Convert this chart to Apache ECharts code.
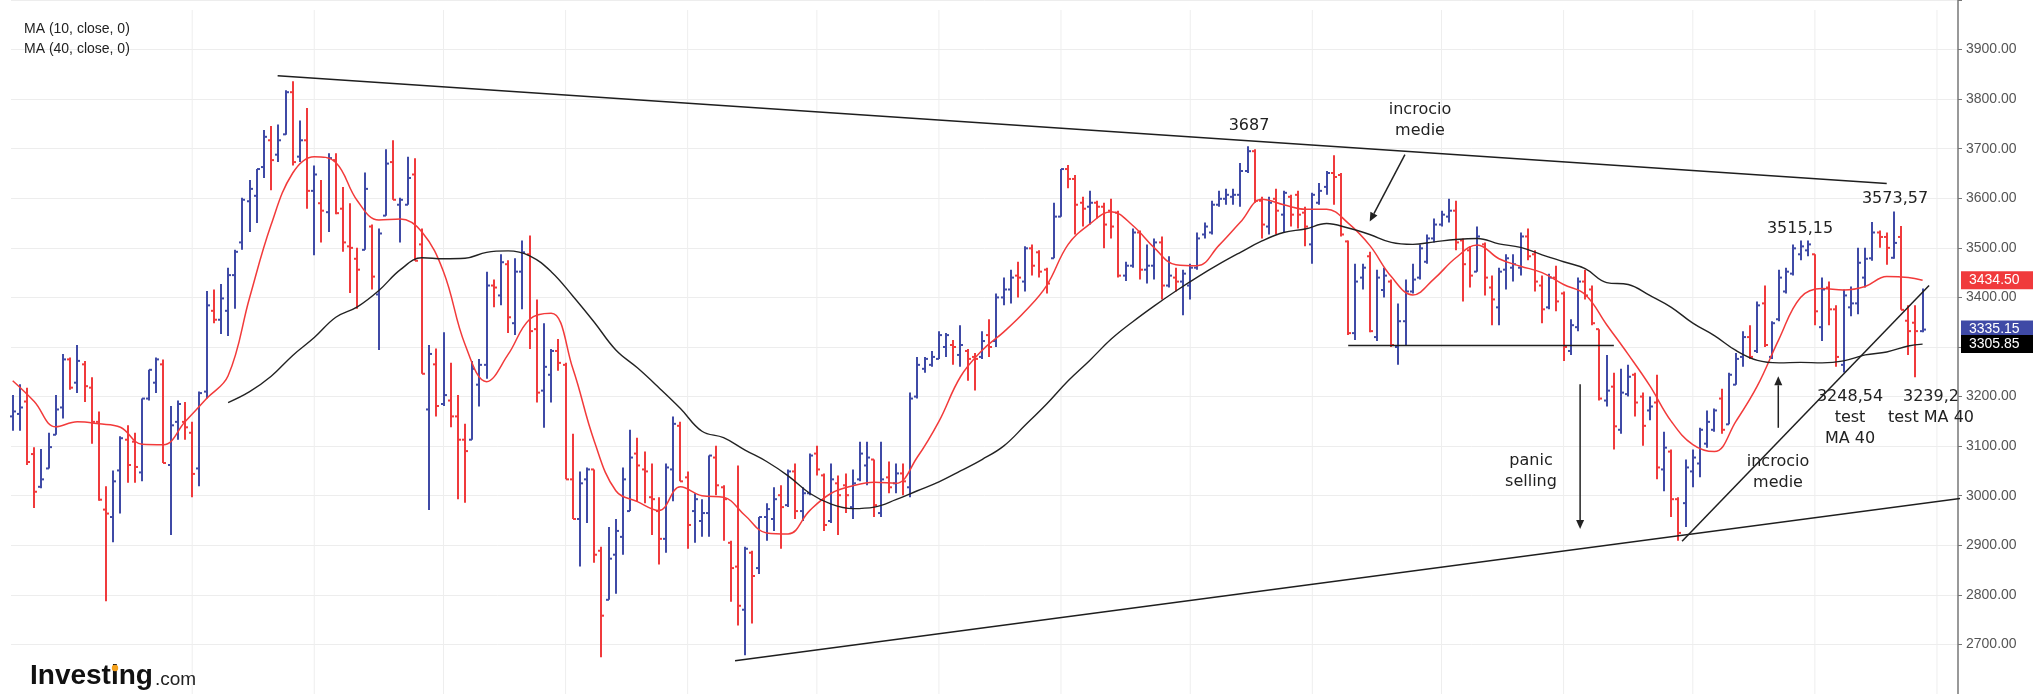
<!DOCTYPE html>
<html lang="it">
<head>
<meta charset="UTF-8">
<title>OHLC con medie mobili</title>
<script src="https://cdn.jsdelivr.net/npm/echarts@6/dist/echarts.min.js"></script>
<style>
  body { margin: 0; background: #fff; }
  #main { width: 2033px; height: 694px; }
</style>
</head>
<body>
<div id="main"></div>
<script>
// daily OHLC, bar 1 .. 267
var open = [3160,3165,3190,3084,3018,3055,3123,3178,3275,3228,
  3265,3218,3149,2972,2957,3051,3113,3109,3047,3196,
  3228,3265,3062,3149,3149,3127,3055,3210,3373,3355,
  3373,3445,3511,3594,3605,3663,3717,3688,3729,3814,
  3684,3717,3615,3590,3572,3677,3579,3503,3478,3496,
  3543,3406,3565,3673,3587,3587,3648,3507,3174,3265,
  3185,3192,3160,3113,3113,3224,3264,3424,3404,3467,
  3348,3452,3487,3336,3212,3244,3292,3264,3033,2953,
  3033,3053,2889,2790,2881,2917,2969,3085,3053,2997,
  2969,2913,3053,3141,3037,2969,2949,2965,3077,3017,
  2905,2857,2770,2885,2854,2957,2953,3001,2981,3049,
  2969,3005,3085,3041,2949,3025,3021,2977,3033,3061,
  3073,2965,3037,3025,3045,3017,3200,3256,3264,3276,
  3300,3304,3284,3292,3280,3280,3324,3312,3400,3416,
  3444,3432,3499,3491,3456,3479,3563,3659,3639,3591,
  3583,3591,3583,3575,3571,3444,3464,3531,3456,3464,
  3511,3424,3440,3432,3424,3460,3527,3531,3587,3599,
  3603,3607,3655,3695,3595,3543,3599,3567,3603,3607,
  3571,3507,3591,3623,3651,3647,3513,3328,3440,3483,
  3320,3415,3432,3300,3352,3412,3440,3472,3519,3547,
  3563,3575,3515,3495,3452,3507,3420,3380,3456,3460,
  3460,3523,3487,3424,3380,3440,3408,3292,3340,3432,
  3416,3336,3192,3220,3133,3205,3244,3200,3172,3188,
  3053,3089,2993,2985,3049,3065,3105,3133,3196,3144,
  3224,3280,3320,3292,3388,3280,3356,3412,3448,3487,
  3495,3487,3340,3420,3376,3264,3380,3388,3440,3479,
  3531,3522,3480,3522,3353,3349,3332];
var high = [3203,3225,3218,3098,3094,3127,3203,3286,3279,3304,
  3272,3239,3170,3019,3051,3120,3142,3127,3196,3254,
  3279,3275,3181,3192,3189,3149,3210,3413,3416,3427,
  3460,3496,3601,3637,3659,3738,3746,3749,3818,3836,
  3757,3782,3666,3637,3691,3691,3623,3590,3500,3652,
  3547,3539,3699,3717,3601,3684,3681,3539,3304,3297,
  3330,3268,3203,3145,3272,3276,3452,3436,3487,3475,
  3479,3515,3525,3396,3348,3296,3316,3268,3125,3049,
  3057,3053,2897,2937,2953,3057,3133,3117,3089,3065,
  2997,3065,3160,3149,3049,3005,2993,3081,3101,3021,
  2909,3061,2897,2889,2957,2985,3017,3021,3053,3065,
  3017,3085,3101,3045,3065,3041,3045,3053,3109,3109,
  3073,3109,3069,3065,3065,3208,3280,3280,3292,3332,
  3328,3314,3344,3296,3288,3332,3356,3408,3440,3456,
  3472,3503,3507,3495,3460,3591,3659,3667,3647,3603,
  3615,3595,3591,3599,3575,3472,3539,3535,3507,3519,
  3523,3483,3460,3456,3468,3531,3551,3595,3615,3619,
  3619,3671,3705,3699,3603,3603,3619,3615,3607,3615,
  3583,3611,3631,3655,3687,3651,3515,3468,3468,3492,
  3456,3460,3436,3388,3436,3468,3507,3527,3559,3575,
  3599,3595,3519,3503,3543,3511,3444,3460,3487,3487,
  3531,3539,3495,3444,3448,3464,3412,3356,3440,3456,
  3424,3336,3284,3248,3256,3264,3248,3208,3200,3244,
  3129,3093,2997,3073,3093,3137,3172,3176,3216,3248,
  3288,3332,3344,3392,3424,3352,3456,3460,3507,3515,
  3515,3487,3440,3432,3384,3416,3422,3500,3500,3552,
  3535,3531,3573.57,3544,3384,3384,3418];
var low = [3131,3131,3062,2975,3015,3055,3123,3156,3214,3207,
  3189,3105,2990,2787,2906,2964,3026,3026,3029,3192,
  3207,3066,2921,3113,3113,2997,3019,3196,3348,3326,
  3322,3377,3496,3532,3550,3641,3616,3673,3728,3666,
  3673,3579,3485,3511,3532,3568,3492,3409,3377,3496,
  3416,3294,3565,3597,3511,3587,3474,3246,2971,3160,
  3181,3138,2993,2986,3113,3180,3236,3380,3384,3328,
  3324,3376,3296,3188,3137,3188,3252,3033,2953,2857,
  2945,2865,2674,2790,2802,2881,2969,2989,2985,2921,
  2861,2885,2989,3029,2893,2905,2917,2917,3001,2909,
  2786,2738,2678,2742,2842,2909,2929,2893,2977,2953,
  2949,3001,3041,2929,2945,2921,2965,2953,3029,3021,
  2957,2957,3005,3005,3001,2997,3196,3248,3260,3276,
  3280,3264,3260,3232,3212,3276,3280,3300,3384,3388,
  3400,3412,3444,3440,3408,3479,3563,3620,3527,3543,
  3547,3559,3499,3519,3440,3433,3460,3436,3428,3436,
  3396,3420,3412,3364,3396,3456,3519,3527,3583,3587,
  3587,3583,3651,3591,3519,3527,3527,3531,3543,3539,
  3503,3468,3587,3607,3587,3523,3324,3314,3416,3330,
  3312,3400,3300,3264,3304,3408,3436,3468,3511,3543,
  3551,3495,3392,3420,3452,3404,3344,3344,3416,3432,
  3444,3475,3412,3348,3376,3372,3272,3284,3332,3396,
  3344,3192,3180,3093,3125,3200,3160,3101,3152,3033,
  3009,2957,2909,2937,3017,3037,3097,3129,3125,3144,
  3224,3260,3276,3288,3300,3276,3352,3408,3444,3475,
  3483,3344,3312,3344,3260,3248.54,3362,3366,3420,3474,
  3500,3466,3478,3375,3284,3239.2,3330];
var close = [3170,3178,3068,3008,3033,3098,3174,3275,3218,3272,
  3221,3149,2992,2964,3029,3116,3062,3058,3196,3254,
  3275,3066,3142,3185,3138,3044,3207,3384,3355,3398,
  3445,3492,3597,3619,3659,3724,3677,3717,3814,3673,
  3717,3615,3648,3575,3681,3570,3511,3500,3456,3619,
  3442,3529,3670,3597,3597,3641,3474,3246,3286,3181,
  3203,3160,3113,3090,3256,3264,3424,3420,3471,3360,
  3452,3491,3332,3208,3260,3292,3268,3033,2953,3025,
  3053,2881,2758,2873,2929,3033,3077,3061,3049,2993,
  2913,3057,3145,3029,2941,2993,2965,3081,3021,2993,
  2854,2778,2893,2838,2957,2973,2993,2977,3049,2969,
  3005,3081,3053,2941,3033,3001,3001,3025,3085,3077,
  2981,3033,3017,3045,3029,3196,3264,3276,3280,3324,
  3324,3300,3304,3276,3276,3312,3300,3400,3416,3440,
  3440,3499,3464,3452,3428,3563,3659,3639,3587,3579,
  3591,3583,3547,3543,3444,3464,3531,3456,3464,3511,
  3424,3444,3432,3448,3460,3519,3543,3587,3599,3607,
  3607,3655,3695,3595,3547,3591,3575,3611,3567,3567,
  3543,3607,3615,3651,3643,3527,3328,3432,3460,3332,
  3440,3444,3304,3352,3412,3436,3499,3519,3547,3567,
  3575,3511,3467,3444,3523,3440,3396,3452,3479,3467,
  3523,3483,3432,3376,3440,3392,3300,3344,3432,3404,
  3348,3196,3212,3140,3208,3240,3188,3141,3180,3057,
  3097,2993,2925,3057,3077,3133,3149,3172,3133,3244,
  3276,3320,3280,3384,3304,3348,3440,3452,3499,3503,
  3507,3372,3416,3376,3280,3404,3388,3470,3478,3531,
  3522,3500,3510,3375,3332,3332,3335.15];

// moving averages read every 3 bars (last value = last bar)
var maStep = 3;
var ma10 = [3232,3190,3139,3149,3145,3138,3104,3103,3149,3196,
  3242,3400,3547,3651,3684,3672,3595,3556,3558,3532,
  3452,3305,3230,3285,3356,3368,3257,3110,3010,2988,
  2970,3018,3000,2997,2960,2925,2923,2970,3005,3020,
  3027,3025,3078,3150,3240,3293,3330,3372,3424,3507,
  3548,3573,3545,3500,3466,3464,3505,3552,3598,3587,
  3578,3578,3550,3505,3442,3405,3438,3480,3506,3478,
  3463,3450,3426,3406,3345,3285,3222,3150,3103,3089,
  3150,3222,3316,3400,3418,3415,3422,3442,3440,3434.5];
var ma10Start = 0;
var ma40 = [3188,3210,3241,3283,3319,3360,3381,3414,3456,3480,
  3478,3479,3491,3494,3484,3452,3403,3350,3294,3258,
  3218,3176,3130,3117,3092,3069,3040,3005,2983,2974,
  2977,2992,3010,3028,3050,3073,3100,3142,3185,3232,
  3273,3316,3351,3383,3413,3441,3467,3491,3514,3531,
  3538,3549,3540,3527,3511,3507,3512,3517,3519,3508,
  3501,3486,3472,3458,3430,3426,3404,3380,3348,3323,
  3293,3273,3268,3269,3268,3272,3284,3290,3302,3305.85];
var ma40Start = 30;

// y ticks, vertical grid days (bar index)
var yMin = 2600, yMax = 4000, yStep = 100;
var gridDays = [25, 42, 60, 77, 94, 112, 129, 146, 164, 181, 199, 216, 234, 251, 268];

// trend lines [bar, price, bar, price]
var resistance = [36.9, 3847, 261, 3630];
var support = [100.6, 2667, 281.4, 3014];
var neckline = [186, 3303, 223, 3303];
var riseLine = [232.5, 2908, 266.9, 3424];
// arrows [bar, price, bar, price]
var arrows = [
  [193.9, 3688, 189.0, 3553],
  [218.3, 3225, 218.3, 2933],
  [245.9, 3137, 245.9, 3241]
];
// last values shown on the price axis
var lastTags = [3434.50, 3335.15, 3305.85];
var tagColors = ['#f03a3c', '#3f4aa6', '#000000'];

var UP = '#3f4aa6', DOWN = '#f03a3c';
var lastBar = close.length - 1;

function maSeries(vals, start) {
  return vals.map(function (v, k) {
    return [Math.min(start + k * maStep, lastBar), v];
  });
}

var ohlc = open.map(function (o, i) { return [i, o, high[i], low[i], close[i]]; });

function renderOhlc(params, api) {
  var i = api.value(0);
  var o = api.value(1), c = api.value(4);
  var pH = api.coord([i, api.value(2)]);
  var pL = api.coord([i, api.value(3)]);
  var pO = api.coord([i, o]);
  var pC = api.coord([i, c]);
  var x = Math.round(pH[0]);
  var st = { stroke: c >= o ? UP : DOWN, lineWidth: 2 };
  return {
    type: 'group',
    children: [
      { type: 'line', shape: { x1: x, y1: pH[1], x2: x, y2: pL[1] }, style: st },
      { type: 'line', shape: { x1: x - 3, y1: pO[1], x2: x, y2: pO[1] }, style: st },
      { type: 'line', shape: { x1: x, y1: pC[1], x2: x + 3, y2: pC[1] }, style: st }
    ]
  };
}

function renderGridDay(params, api) {
  var p = api.coord([api.value(0), yMin]);
  var cs = params.coordSys;
  return {
    type: 'line',
    shape: { x1: p[0], y1: 10, x2: p[0], y2: cs.y + cs.height },
    style: { stroke: '#eeeeee', lineWidth: 1 }
  };
}

function renderArrow(params, api) {
  var a = api.coord([api.value(0), api.value(1)]);
  var b = api.coord([api.value(2), api.value(3)]);
  var ang = Math.atan2(b[1] - a[1], b[0] - a[0]);
  var len = 9, w = 4;
  var bx = b[0] - len * Math.cos(ang), by = b[1] - len * Math.sin(ang);
  var px = -Math.sin(ang) * w, py = Math.cos(ang) * w;
  return {
    type: 'group',
    children: [
      { type: 'line', shape: { x1: a[0], y1: a[1], x2: bx, y2: by }, style: { stroke: '#222', lineWidth: 1.5 } },
      { type: 'polygon', shape: { points: [[b[0], b[1]], [bx + px, by + py], [bx - px, by - py]] }, style: { fill: '#222' } }
    ]
  };
}

function trend(seg, clip) {
  return {
    type: 'line', data: [[seg[0], seg[1]], [seg[2], seg[3]]],
    symbol: 'none', clip: clip, z: 5, silent: true,
    lineStyle: { color: '#1e1e1e', width: 1.5 }
  };
}

var myChart = echarts.init(document.getElementById('main'));

myChart.setOption({
  animation: false,
  backgroundColor: '#ffffff',
  grid: { left: 11, right: 75, top: -3, bottom: -19 },
  xAxis: { type: 'value', min: -0.237, max: 270.93, show: false },
  yAxis: {
    type: 'value', position: 'right', min: yMin, max: yMax, interval: yStep,
    axisLine: { show: true, onZero: false, lineStyle: { color: '#777', width: 1.5 } },
    axisTick: { show: true, length: 4, lineStyle: { color: '#777' } },
    axisLabel: {
      color: '#555', fontSize: 14, fontFamily: 'Liberation Sans', margin: 8,
      formatter: function (v) { return (v === yMin || v === yMax) ? '' : v.toFixed(2); }
    },
    splitLine: { lineStyle: { color: '#ededed', width: 1 } }
  },
  series: [
    { type: 'custom', data: gridDays.map(function (d) { return [d]; }), renderItem: renderGridDay, z: 0, silent: true },
    { type: 'custom', data: ohlc, renderItem: renderOhlc, encode: { x: 0, y: [1, 2, 3, 4] }, z: 2, silent: true },
    {
      type: 'line', data: maSeries(ma10, ma10Start), smooth: 0.4, symbol: 'none', z: 3, silent: true,
      lineStyle: { color: '#f23a3a', width: 1.5 }
    },
    {
      type: 'line', data: maSeries(ma40, ma40Start), smooth: 0.4, symbol: 'none', z: 3, silent: true,
      lineStyle: { color: '#222', width: 1.4 }
    },
    trend(resistance, true),
    trend(support, false),
    trend(neckline, true),
    trend(riseLine, true),
    { type: 'custom', data: arrows, renderItem: renderArrow, encode: { x: [0, 2], y: [1, 3] }, z: 6, silent: true, clip: false }
  ]
});

// texts, logo and the price tags, all added in one go
var noteFont = { fontFamily: 'DejaVu Sans', fontSize: 16, fill: '#222', textAlign: 'center', textVerticalAlign: 'middle', lineHeight: 21 };
function note(x, y, text) {
  return { type: 'text', x: x, y: y, z: 20, style: Object.assign({ text: text }, noteFont) };
}

var graphics = [
  { type: 'text', x: 24, y: 29, style: { text: 'MA (10, close, 0)', font: '14px "Liberation Sans"', fill: '#222', textVerticalAlign: 'middle' } },
  { type: 'text', x: 24, y: 49, style: { text: 'MA (40, close, 0)', font: '14px "Liberation Sans"', fill: '#222', textVerticalAlign: 'middle' } },
  note(1249, 126, '3687'),
  note(1420, 120, 'incrocio\nmedie'),
  note(1531, 471, 'panic\nselling'),
  note(1800, 229, '3515,15'),
  note(1895, 199, '3573,57'),
  note(1778, 472, 'incrocio\nmedie'),
  note(1850, 418, '3248,54\ntest\nMA 40'),
  note(1931, 407, '3239,2\ntest MA 40'),
  { type: 'text', x: 30, y: 662, style: { text: 'Investing', font: 'bold 28px "Liberation Sans"', fill: '#111' } },
  { type: 'text', x: 155, y: 670, style: { text: '.com', font: '19px "Liberation Sans"', fill: '#222' } },
  { type: 'circle', shape: { cx: 115, cy: 668, r: 3.2 }, style: { fill: '#f4a11d' }, z: 10 }
];
lastTags.forEach(function (v, k) {
  var y = myChart.convertToPixel({ gridIndex: 0 }, [0, v])[1];
  graphics.push({ type: 'rect', z: 30, shape: { x: 1961, y: y - 9, width: 72, height: 18 }, style: { fill: tagColors[k] } });
  graphics.push({ type: 'text', z: 31, x: 1969, y: y, style: { text: v.toFixed(2), font: '14px "Liberation Sans"', fill: '#fff', textVerticalAlign: 'middle' } });
});
myChart.setOption({ graphic: graphics });
</script>
</body>
</html>
